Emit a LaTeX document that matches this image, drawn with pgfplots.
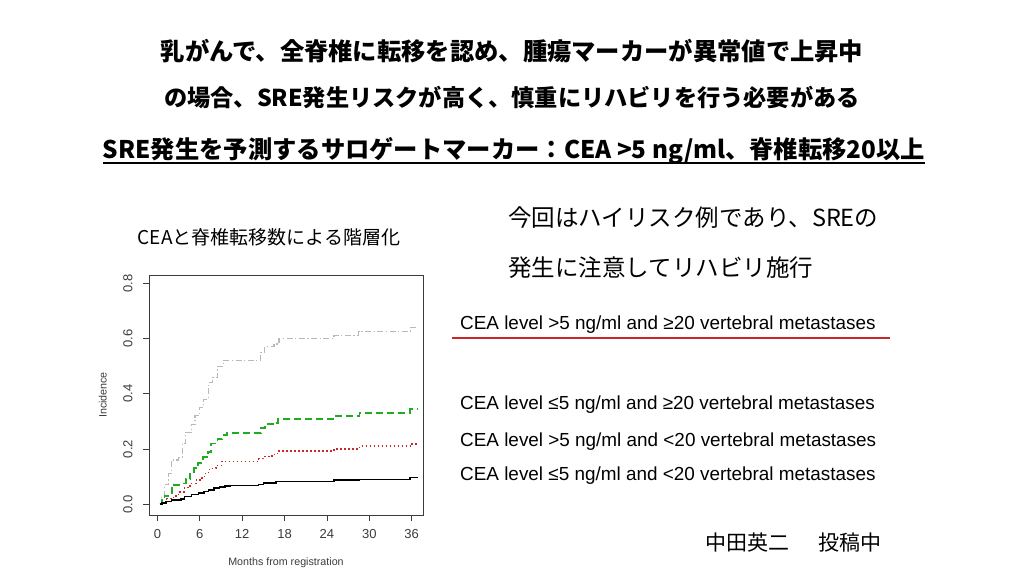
\documentclass[border=0pt]{standalone}
\usepackage{fontspec}
\setmainfont{Liberation Sans}
\newfontfamily\jp{Noto Sans CJK JP}
\usepackage{pgfplots}
\pgfplotsset{compat=1.18}
\definecolor{kmgray}{RGB}{185,185,185}
\definecolor{kmgreen}{RGB}{34,170,34}
\definecolor{kmred}{RGB}{200,40,40}
\definecolor{axgray}{RGB}{60,60,60}

\begin{document}
\begin{tikzpicture}[x=1pt,y=1pt]
\path[fill=white] (0,0) rectangle (1024,576);

% slide headings
\tikzset{jpb/.style={font=\jp\bfseries\fontsize{24.3}{28}\selectfont, inner sep=0pt}}
\node[jpb] at (512,525) {乳がんで、全脊椎に転移を認め、腫瘍マーカーが異常値で上昇中};
\node[jpb, font=\jp\bfseries\fontsize{23.2}{28}\selectfont] at (512,479) {の場合、SRE発生リスクが高く、慎重にリハビリを行う必要がある};
\node[jpb] at (514,425) {SRE発生を予測するサロゲートマーカー：CEA >5 ng/ml、脊椎転移20以上};
\draw[line width=2pt] (103,413) -- (925,413);

\node[font=\jp\fontsize{19}{23}\selectfont, inner sep=0pt] at (269,339) {CEAと脊椎転移数による階層化};
\node[font=\jp\fontsize{23.5}{28}\selectfont, inner sep=0pt, anchor=west] at (508,358) {今回はハイリスク例であり、SREの};
\node[font=\jp\fontsize{23.5}{28}\selectfont, inner sep=0pt, anchor=west] at (508,308) {発生に注意してリハビリ施行};

% group descriptions
\tikzset{grp/.style={font=\fontsize{18.9}{22}\selectfont, inner sep=0pt, anchor=base west}}
\node[grp] at (460,246.7) {CEA level >5 ng/ml and ≥20 vertebral metastases};
\draw[kmred, line width=2.2pt] (452,238.3) -- (890,238.3);
\node[grp] at (460,166.7) {CEA level ≤5 ng/ml and ≥20 vertebral metastases};
\node[grp] at (460,130) {CEA level >5 ng/ml and <20 vertebral metastases};
\node[grp] at (460,96) {CEA level ≤5 ng/ml and <20 vertebral metastases};

\node[font=\jp\fontsize{21}{25}\selectfont, inner sep=0pt, anchor=west] at (705,33) {中田英二};
\node[font=\jp\fontsize{21}{25}\selectfont, inner sep=0pt, anchor=west] at (818,33) {投稿中};

\begin{axis}[
  at={(149pt,61pt)}, anchor=south west,
  scale only axis, width=274pt, height=240pt,
  xmin=-1.2, xmax=37.6, ymin=-0.039, ymax=0.83,
  xtick={0,6,12,18,24,30,36},
  ytick={0,0.2,0.4,0.6,0.8},
  axis line style={axgray, line width=0.8pt},
  tick style={axgray, line width=0.8pt},
  tick align=outside, tick pos=left,
  major tick length=6pt,
  ticklabel style={font=\fontsize{13}{15}\selectfont, text=axgray},
  /pgf/number format/assume math mode=true,
  yticklabel style={xshift=-7pt, rotate=90, anchor=south, /pgf/number format/fixed,
    /pgf/number format/fixed zerofill, /pgf/number format/precision=1},
  xticklabel style={yshift=-5pt},
  xlabel={Months from registration},
  ylabel={Incidence},
  label style={font=\fontsize{10.7}{13}\selectfont, text=axgray},
  xlabel style={at={(axis description cs:0.5,-0.2)}, anchor=center},
  ylabel style={at={(axis description cs:-0.169,0.5)}, anchor=center, rotate=0},
  clip=false,
]
% CEA >5 and >=20
\addplot[const plot, kmgray, line width=1.2pt, dash pattern=on 6pt off 2.5pt on 1.2pt off 2.5pt]
  coordinates {(0.3,0)(0.6,0.03)(1,0.07)(1.6,0.11)(2,0.16)(3,0.17)(3.5,0.22)(4,0.26)
  (4.8,0.29)(5.3,0.32)(6,0.35)(6.5,0.38)(7.2,0.44)(7.8,0.46)(8.5,0.50)(9.3,0.52)
  (14.6,0.55)(15.2,0.57)(16.5,0.58)(17.2,0.60)(25,0.61)(28.5,0.625)(35.8,0.64)(36.9,0.64)};
% CEA <=5 and >=20
\addplot[const plot, kmgreen, line width=1.9pt, dash pattern=on 7pt off 4pt]
  coordinates {(0.3,0)(0.6,0.02)(1,0.03)(2,0.07)(3.5,0.075)(4,0.09)(4.6,0.11)(5.2,0.13)
  (5.8,0.15)(6.5,0.17)(7.2,0.19)(7.6,0.22)(8.5,0.235)(9.2,0.25)(9.8,0.257)(14.6,0.275)
  (15.2,0.29)(16.6,0.295)(17.1,0.31)(24.9,0.32)(28.6,0.33)(35.8,0.344)(36.9,0.344)};
% CEA >5 and <20
\addplot[const plot, kmred, line width=1.5pt, dash pattern=on 1.5pt off 2.5pt]
  coordinates {(0.3,0)(0.7,0.01)(1.3,0.02)(2.3,0.03)(3,0.045)(3.8,0.06)(4.6,0.075)(5.5,0.088)
  (6.3,0.1)(6.8,0.115)(7.4,0.13)(8.3,0.14)(9.1,0.155)(14.3,0.165)(15,0.172)(16.2,0.18)
  (17,0.193)(25,0.2)(28.6,0.21)(35.8,0.218)(36.9,0.218)};
% CEA <=5 and <20
\addplot[const plot, black, line width=1.6pt]
  coordinates {(0.3,0)(0.6,0.005)(1.2,0.01)(2,0.015)(3.3,0.02)(3.8,0.028)(4.8,0.035)(5.8,0.04)
  (6.6,0.046)(7.2,0.052)(8,0.058)(8.8,0.063)(9.6,0.066)(10.3,0.068)(14.3,0.072)(15,0.076)
  (16.8,0.082)(25,0.088)(28.6,0.09)(35.8,0.097)(36.9,0.097)};
\end{axis}
\end{tikzpicture}
\end{document}
